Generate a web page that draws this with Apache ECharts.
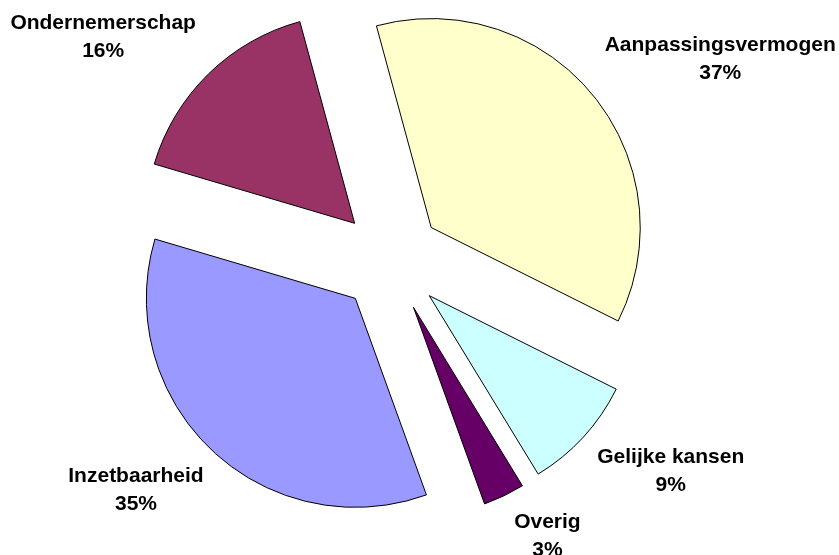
<!DOCTYPE html>
<html>
<head>
<meta charset="utf-8">
<script src="https://cdn.jsdelivr.net/npm/echarts@6/dist/echarts.min.js"></script>
<style>
  html, body { margin: 0; padding: 0; background: #fff; }
</style>
</head>
<body>
<div id="main" style="width: 839px; height: 555px;"></div>
<script>
// categories, clockwise from the top
var categories = ['Aanpassingsvermogen', 'Gelijke kansen', 'Overig', 'Inzetbaarheid', 'Ondernemerschap'];
// share per category (%)
var values = [36.6, 8.9, 3.2, 35.1, 16.2];
var colors = ['#FFFFCC', '#CCFFFF', '#660066', '#9999FF', '#993366'];

// label line lengths, only used to place the labels (lines are hidden)
var labelLen = [56, 51, 45, 54, 52];
var labelLen2 = [79, 45, 19, 34, 64];

var myChart = echarts.init(document.getElementById('main'));

var pieData = categories.map(function (name, i) {
  return {
    name: name,
    value: values[i],
    selected: true,
    itemStyle: { color: colors[i] },
    labelLine: { show: false, length: labelLen[i], length2: labelLen2[i] }
  };
});

var option = {
  animation: false,
  series: [
    {
      type: 'pie',
      center: [391, 260.5],
      radius: [0, 209],
      startAngle: 105.2,
      clockwise: true,
      selectedMode: 'multiple',
      selectedOffset: 52,
      avoidLabelOverlap: false,
      silent: true,
      itemStyle: { borderColor: '#000', borderWidth: 1 },
      select: { itemStyle: { borderColor: '#000', borderWidth: 1 } },
      emphasis: { scale: false },
      label: {
        show: true,
        position: 'outside',
        formatter: function (p) {
          return p.name + '\n' + Math.round(p.percent) + '%';
        },
        fontFamily: '"Liberation Sans", Arial, sans-serif',
        fontWeight: 'bold',
        fontSize: 21,
        lineHeight: 28,
        color: '#000'
      },
      labelLine: { show: false },
      labelLayout: { align: 'center' },
      data: pieData
    }
  ]
};

myChart.setOption(option);
</script>
</body>
</html>
